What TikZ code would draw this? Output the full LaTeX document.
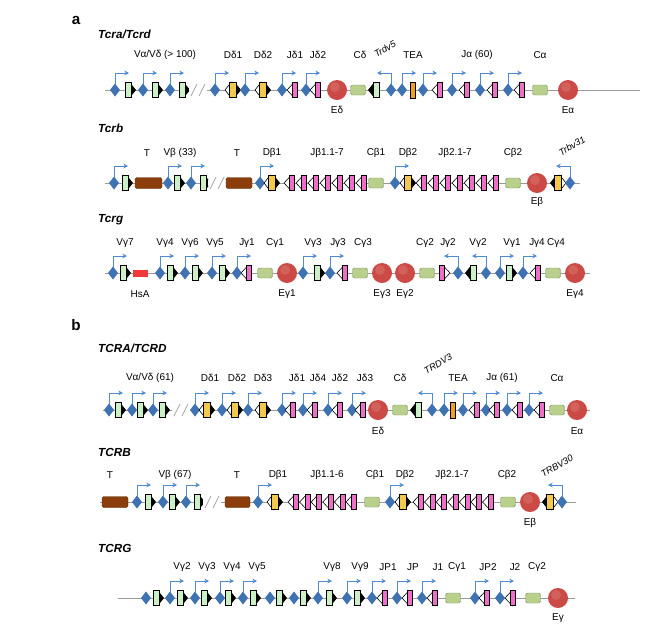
\documentclass[tikz,border=0pt]{standalone}
\usepackage{fontspec}
\setmainfont{Liberation Sans}
\usetikzlibrary{arrows.meta}
\definecolor{vg}{HTML}{CDEFC8}
\definecolor{dy}{HTML}{F2C94C}
\definecolor{jp}{HTML}{EE6FC8}
\definecolor{dia}{HTML}{3F72B3}
\definecolor{arr}{HTML}{4F8BD0}
\definecolor{cg}{HTML}{B9D08D}
\definecolor{er}{HTML}{CC4A45}
\definecolor{tb}{HTML}{8B3E0C}
\definecolor{teo}{HTML}{F0A020}
\definecolor{hsa}{HTML}{F03A3A}
\tikzset{
 lab/.style={font=\fontsize{8.5}{9}\selectfont,inner sep=0pt},
 ttl/.style={font=\fontsize{10}{11}\selectfont\bfseries\itshape,anchor=west,inner sep=0pt},
 rot/.style={font=\fontsize{8}{9}\selectfont\itshape,inner sep=0pt,rotate=30},
 gline/.style={draw=gray!80,line width=0.8pt},
 parr/.style={draw=arr,line width=0.7pt,-{Stealth[length=4pt,width=4pt]}},
 gbox/.style={draw=black,line width=0.5pt}
}
\newcommand\gV[3]{\begin{scope}[shift={(#1,#2)},xscale=#3]
 \fill[black] (2,-7.5) -- (8,0) -- (2,7.5) -- cycle;
 \draw[gbox,fill=vg] (-3,-7.5) rectangle (3,7.5);\end{scope}}
\newcommand\gD[3]{\begin{scope}[shift={(#1,#2)},xscale=#3]
 \fill[black] (2,-7.5) -- (8,0) -- (2,7.5) -- cycle;
 \draw[gbox,fill=white] (-2,-7.5) -- (-8,0) -- (-2,7.5) -- cycle;
 \draw[gbox,fill=dy] (-3.5,-7.5) rectangle (3.5,7.5);\end{scope}}
\newcommand\gJ[3]{\begin{scope}[shift={(#1,#2)},xscale=#3]
 \draw[gbox,fill=white] (-1,-7.5) -- (-8,0) -- (-1,7.5) -- cycle;
 \draw[gbox,fill=jp] (-2.5,-7.5) rectangle (2.5,7.5);\end{scope}}
\newcommand\gTEA[2]{\draw[gbox,fill=teo] (#1-2.5,#2-8) rectangle (#1+2.5,#2+8);}
\newcommand\gDia[2]{\fill[dia] (#1-5,#2) -- (#1,#2-6.5) -- (#1+5,#2) -- (#1,#2+6.5) -- cycle;}
\newcommand\gArr[3]{\draw[parr] (#1,#2-6) -- (#1,#2-17) -- (#1+14*#3,#2-17);}
\newcommand\gC[2]{\draw[draw=cg!70!black,fill=cg,rounded corners=1.5pt,line width=0.4pt] (#1-7.5,#2-5) rectangle (#1+7.5,#2+5);}
\newcommand\gE[2]{\fill[er] (#1,#2) circle (10);\fill[white,opacity=0.12] (#1-2,#2-3) circle (5);}
\newcommand\gT[3]{\draw[draw=tb!70!black,fill=tb,rounded corners=1.5pt,line width=0.4pt] (#1,#3-5.5) rectangle (#2,#3+5.5);}
\newcommand\gSl[2]{\fill[white] (#1-5,#2-3) rectangle (#1+13,#2+3);
 \draw[gray!70,line width=0.7pt] (#1-3,#2+6) -- (#1+3,#2-6) (#1+5,#2+6) -- (#1+11,#2-6);}
\begin{document}
\begin{tikzpicture}[x=0.03cm,y=-0.03cm]
\useasboundingbox (0,0) rectangle (654,637);
\fill[white] (0,0) rectangle (654,637);
\node[font=\fontsize{13}{14}\selectfont\bfseries] (pa) at (76,20) {a};
\node[font=\fontsize{13}{14}\selectfont\bfseries] (pb) at (76,325) {b};
% ===== a1 Tcra/Tcrd =====
\node[ttl] (t1) at (98,34) {Tcra/Tcrd};
\def\Y{90}
\draw[gline] (105,\Y) -- (640,\Y);
\foreach \d/\v in {115/128,143/155,170/182}{\gArr{\d}{\Y}{1}\gDia{\d}{\Y}\gV{\v}{\Y}{1}}
\gSl{194}{\Y}
\foreach \d/\v in {215/233,245/263}{\gArr{\d}{\Y}{1}\gDia{\d}{\Y}\gD{\v}{\Y}{1}}
\foreach \d/\v in {282/295,306/318}{\gArr{\d}{\Y}{1}\gDia{\d}{\Y}\gJ{\v}{\Y}{1}}
\gE{337}{\Y}\gC{358}{\Y}
\gV{376}{\Y}{-1}
\gArr{391}{\Y}{-1}\gDia{391}{\Y}
\gArr{402}{\Y}{1}\gDia{402}{\Y}\gTEA{413}{\Y}
\foreach \d/\v in {423/440,452/467,480/495,508/522}{\gArr{\d}{\Y}{1}\gDia{\d}{\Y}\gJ{\v}{\Y}{1}}
\gC{540}{\Y}\gE{568}{\Y}
\node[lab] (l1) at (165,55) {Vα/Vδ (> 100)};
\foreach \x/\t [count=\i] in {233/Dδ1,263/Dδ2,295/Jδ1,318/Jδ2,360/Cδ,413/TEA,477/Jα (60),540/Cα}{\node[lab] (a1l\i) at (\x,55) {\t};}
\node[lab] (eD) at (337,110) {Eδ};
\node[lab] (eA) at (568,110) {Eα};
\node[rot] (trdv5) at (385,49) {Trdv5};
% ===== a2 Tcrb =====
\node[ttl] (t2) at (98,128) {Tcrb};
\def\Y{183}
\draw[gline] (105,\Y) -- (580,\Y);
\gArr{114}{\Y}{1}\gDia{114}{\Y}\gV{125}{\Y}{1}
\gT{135}{162}{\Y}
\foreach \d/\v in {168/177,191/203}{\gArr{\d}{\Y}{1}\gDia{\d}{\Y}\gV{\v}{\Y}{1}}
\gSl{213}{\Y}
\gT{226}{252}{\Y}
\gArr{260}{\Y}{1}\gDia{260}{\Y}\gD{272}{\Y}{1}
\foreach \k in {0,...,6}{\gJ{292+12*\k}{\Y}{1}}
\gC{376}{\Y}
\gArr{395}{\Y}{1}\gDia{395}{\Y}\gD{408}{\Y}{1}
\foreach \k in {0,...,6}{\gJ{424+12*\k}{\Y}{1}}
\gC{513}{\Y}\gE{537}{\Y}
\gD{558}{\Y}{-1}
\gArr{570}{\Y}{-1}\gDia{570}{\Y}
\foreach \x/\t [count=\i] in {147/T,180/Vβ (33),237/T,272/Dβ1,327/Jβ1.1-7,376/Cβ1,408/Dβ2,455/Jβ2.1-7,513/Cβ2}{\node[lab] (a2l\i) at (\x,153) {\t};}
\node[lab] (eB) at (537,202) {Eβ};
\node[rot] (trbv31) at (572,146) {Trbv31};
% ===== a3 Tcrg =====
\node[ttl] (t3) at (98,220) {Tcrg};
\def\Y{273}
\draw[gline] (105,\Y) -- (590,\Y);
\gArr{113}{\Y}{1}\gDia{113}{\Y}\gV{123}{\Y}{1}
\fill[hsa] (133,\Y-3.5) rectangle (148,\Y+3.5);
\foreach \d/\v in {160/170,185/195,212/222,303/317}{\gArr{\d}{\Y}{1}\gDia{\d}{\Y}\gV{\v}{\Y}{1}}
\foreach \d/\v in {237/249,330/345}{\gArr{\d}{\Y}{1}\gDia{\d}{\Y}\gJ{\v}{\Y}{1}}
\gC{265}{\Y}\gE{287}{\Y}\gC{360}{\Y}\gE{382}{\Y}\gE{405}{\Y}\gC{427}{\Y}
\gJ{442}{\Y}{-1}
\gArr{458}{\Y}{-1}\gDia{458}{\Y}
\gV{473}{\Y}{-1}
\gArr{486}{\Y}{-1}\gDia{486}{\Y}
\gArr{500}{\Y}{1}\gDia{500}{\Y}\gV{509}{\Y}{1}
\gArr{523}{\Y}{1}\gDia{523}{\Y}\gJ{538}{\Y}{1}
\gC{553}{\Y}\gE{575}{\Y}
\foreach \x/\t [count=\i] in {125/Vγ7,165/Vγ4,190/Vγ6,215/Vγ5,247/Jγ1,275/Cγ1,313/Vγ3,338/Jγ3,363/Cγ3,425/Cγ2,448/Jγ2,478/Vγ2,512/Vγ1,537/Jγ4,556/Cγ4}{\node[lab] (a3l\i) at (\x,243) {\t};}
\foreach \x/\t [count=\i] in {140/HsA,287/Eγ1,382/Eγ3,405/Eγ2,575/Eγ4}{\node[lab] (a3b\i) at (\x,294) {\t};}
% ===== b1 TCRA/TCRD =====
\node[ttl] (t4) at (98,348) {TCRA/TCRD};
\def\Y{410}
\draw[gline] (103,\Y) -- (590,\Y);
\foreach \d/\v in {109/118,132/140,153/162}{\gArr{\d}{\Y}{1}\gDia{\d}{\Y}\gV{\v}{\Y}{1}}
\gSl{177}{\Y}
\foreach \d/\v in {195/207,222/235,248/263}{\gArr{\d}{\Y}{1}\gDia{\d}{\Y}\gD{\v}{\Y}{1}}
\foreach \d/\v in {282/293,303/315,328/340,352/363}{\gArr{\d}{\Y}{1}\gDia{\d}{\Y}\gJ{\v}{\Y}{1}}
\gE{378}{\Y}\gC{400}{\Y}
\gV{418}{\Y}{-1}
\gArr{432}{\Y}{-1}\gDia{432}{\Y}
\gArr{444}{\Y}{1}\gDia{444}{\Y}\gTEA{453}{\Y}
\foreach \d/\v in {463/477,486/497,507/520,529/542}{\gArr{\d}{\Y}{1}\gDia{\d}{\Y}\gJ{\v}{\Y}{1}}
\gC{557}{\Y}\gE{577}{\Y}
\node[lab] (b1v) at (150,378) {Vα/Vδ (61)};
\foreach \x/\t [count=\i] in {210/Dδ1,237/Dδ2,263/Dδ3,297/Jδ1,318/Jδ4,340/Jδ2,365/Jδ3,400/Cδ,458/TEA,502/Jα (61),557/Cα}{\node[lab] (b1l\i) at (\x,378) {\t};}
\node[lab] (eD2) at (378,431) {Eδ};
\node[lab] (eA2) at (577,431) {Eα};
\node[rot] (trdv3) at (438,364) {TRDV3};
% ===== b2 TCRB =====
\node[ttl] (t5) at (98,452) {TCRB};
\def\Y{502}
\draw[gline] (100,\Y) -- (576,\Y);
\gT{102}{128}{\Y}
\foreach \d/\v in {137/148,163/172,186/197}{\gArr{\d}{\Y}{1}\gDia{\d}{\Y}\gV{\v}{\Y}{1}}
\gSl{208}{\Y}
\gT{225}{250}{\Y}
\gArr{258}{\Y}{1}\gDia{258}{\Y}\gD{275}{\Y}{1}
\foreach \k in {0,...,5}{\gJ{296+11.6*\k}{\Y}{1}}
\gC{372}{\Y}
\gArr{390}{\Y}{1}\gDia{390}{\Y}\gD{403}{\Y}{1}
\foreach \k in {0,...,6}{\gJ{421+11.6*\k}{\Y}{1}}
\gC{508}{\Y}\gE{530}{\Y}
\gD{550}{\Y}{-1}
\gArr{562}{\Y}{-1}\gDia{562}{\Y}
\foreach \x/\t [count=\i] in {110/T,175/Vβ (67),237/T,278/Dβ1,327/Jβ1.1-6,375/Cβ1,405/Dβ2,452/Jβ2.1-7,507/Cβ2}{\node[lab] (b2l\i) at (\x,475) {\t};}
\node[lab] (eB2) at (530,523) {Eβ};
\node[rot] (trbv30) at (557,466) {TRBV30};
% ===== b3 TCRG =====
\node[ttl] (t6) at (98,548) {TCRG};
\def\Y{598}
\draw[gline] (118,\Y) -- (575,\Y);
\gDia{146}{\Y}\gV{156}{\Y}{1}
\foreach \d/\v in {170/180,195/204,220/228,243/253,318/329,347/357}{\gArr{\d}{\Y}{1}\gDia{\d}{\Y}\gV{\v}{\Y}{1}}
\gDia{270}{\Y}\gV{279}{\Y}{1}
\gDia{294}{\Y}\gV{303}{\Y}{1}
\foreach \d/\v in {372/385,397/410,422/435,475/487,500/513}{\gArr{\d}{\Y}{1}\gDia{\d}{\Y}\gJ{\v}{\Y}{1}}
\gC{453}{\Y}\gC{533}{\Y}\gE{558}{\Y}
\foreach \x/\t [count=\i] in {182/Vγ2,207/Vγ3,232/Vγ4,257/Vγ5,332/Vγ8,360/Vγ9,388/JP1,413/JP,438/J1,457/Cγ1,488/JP2,515/J2,537/Cγ2}{\node[lab] (b3l\i) at (\x,567) {\t};}
\node[lab] (eG) at (558,618) {Eγ};
\end{tikzpicture}
\end{document}
